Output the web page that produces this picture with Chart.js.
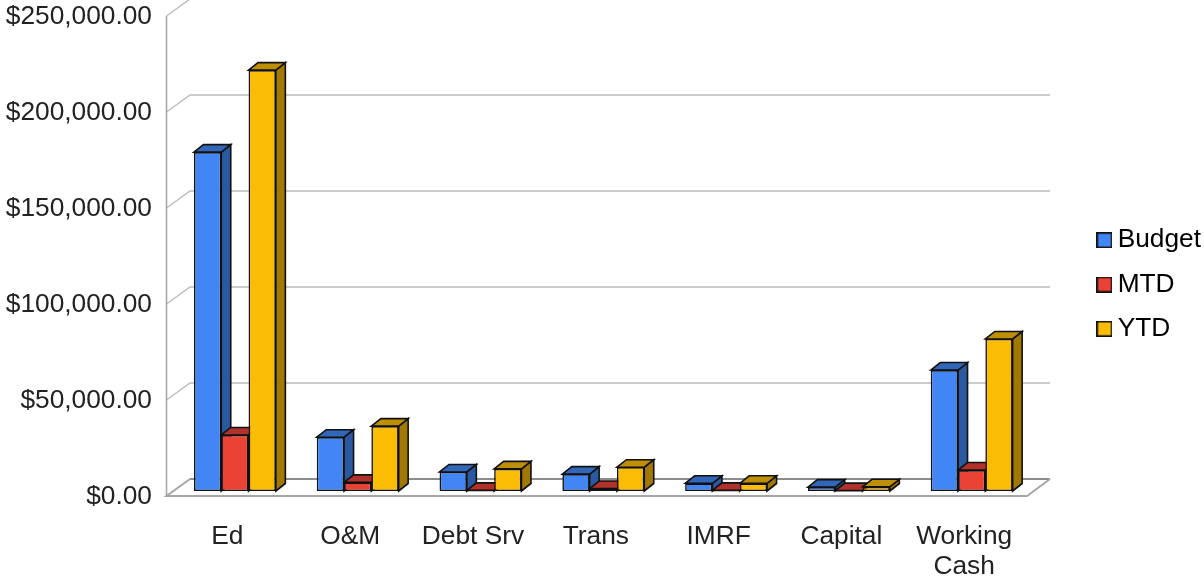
<!DOCTYPE html>
<html>
<head>
<meta charset="utf-8">
<style>html,body{margin:0;padding:0;background:#fff}canvas{display:block}</style>
<script src="https://cdn.jsdelivr.net/npm/chart.js@4"></script>
</head>
<body>
<canvas id="c" width="1204" height="582"></canvas>
<script>
const categories = ['Ed', 'O&M', 'Debt Srv', 'Trans', 'IMRF', 'Capital', ['Working', 'Cash']];
const budget = [176500, 28000, 9900, 8800, 4000, 2000, 63000];
const mtd = [29200, 4500, 300, 1300, 300, 200, 10900];
const ytd = [219200, 33800, 11500, 12400, 4000, 2200, 79200];
const seriesNames = ['Budget', 'MTD', 'YTD'];
const frontColors = ['#4285f4', '#ea4335', '#fbbc04'];
const topColors = ['#3166b9', '#b1322a', '#bf8f03'];
const sideColors = ['#2b599f', '#9d2d25', '#a07802'];
const yMax = 250000;
const yStep = 50000;

const depthX = 9.5, depthY = -7.5;
const edge = '#111111';

function legendSwatch(color) {
  const cv = document.createElement('canvas');
  cv.width = 16; cv.height = 16;
  const g = cv.getContext('2d');
  g.fillStyle = color; g.fillRect(0, 0, 16, 16);
  g.strokeStyle = edge; g.lineWidth = 1.6; g.strokeRect(0.8, 0.8, 14.4, 14.4);
  return cv;
}

const room3d = {
  id: 'room3d',
  afterLayout(chart) {
    const l = chart.legend;
    l.left += 53.4; l.right += 53.4;
    l.top -= 12; l.bottom -= 12;
  },
  beforeDatasetsDraw(chart) {
    const ctx = chart.ctx, y = chart.scales.y;
    const fx = 166.5, bx = 190, frontOff = 5, backOff = -12, endF = 1027, endB = 1050;
    ctx.save();
    ctx.lineWidth = 1.4; ctx.strokeStyle = '#bcbcbc';
    y.ticks.forEach(t => {
      const p = y.getPixelForValue(t.value);
      if (t.value === 0) return;
      ctx.beginPath();
      ctx.moveTo(fx, p + frontOff); ctx.lineTo(bx, p + backOff); ctx.lineTo(endB, p + backOff);
      ctx.stroke();
    });
    const top = y.getPixelForValue(yMax), zero = y.getPixelForValue(0);
    ctx.strokeStyle = '#a8a8a8'; ctx.lineWidth = 1.6;
    ctx.beginPath(); ctx.moveTo(fx, top + frontOff); ctx.lineTo(fx, zero + frontOff); ctx.stroke();
    ctx.strokeStyle = '#8c8c8c'; ctx.lineWidth = 2;
    ctx.beginPath(); ctx.moveTo(bx, zero + backOff); ctx.lineTo(endB, zero + backOff); ctx.stroke();
    ctx.strokeStyle = '#a6a6a6'; ctx.lineWidth = 2;
    ctx.beginPath();
    ctx.moveTo(bx, zero + backOff); ctx.lineTo(fx, zero + frontOff); ctx.lineTo(endF, zero + frontOff); ctx.lineTo(endB, zero + backOff);
    ctx.stroke();

    // side and top faces of every bar, left to right; the fronts are drawn over them by the library
    ctx.lineWidth = 1.6; ctx.strokeStyle = edge; ctx.lineJoin = 'miter';
    const metas = chart.data.datasets.map((d, i) => chart.getDatasetMeta(i));
    categories.forEach((c, ci) => {
      metas.forEach((meta, i) => {
        const { x, y: vy, base, width } = meta.data[ci].getProps(['x', 'y', 'base', 'width'], true);
        const l = x - width / 2, r = x + width / 2;
        ctx.fillStyle = sideColors[i];
        ctx.beginPath();
        ctx.moveTo(r, vy); ctx.lineTo(r + depthX, vy + depthY); ctx.lineTo(r + depthX, base + depthY); ctx.lineTo(r, base);
        ctx.closePath(); ctx.fill(); ctx.stroke();
        ctx.fillStyle = topColors[i];
        ctx.beginPath();
        ctx.moveTo(l, vy); ctx.lineTo(l + depthX, vy + depthY); ctx.lineTo(r + depthX, vy + depthY); ctx.lineTo(r, vy);
        ctx.closePath(); ctx.fill(); ctx.stroke();
      });
    });
    ctx.restore();
  }
};

const font = { family: '"Liberation Sans", Arial, sans-serif', size: 26.3, lineHeight: 1.15 };
const values = [budget, mtd, ytd];

new Chart(document.getElementById('c'), {
  type: 'bar',
  data: {
    labels: categories,
    datasets: seriesNames.map((name, i) => ({
      label: name,
      data: values[i],
      backgroundColor: frontColors[i],
      borderColor: edge,
      borderWidth: 1.6,
      borderSkipped: false,
      categoryPercentage: 0.667,
      barPercentage: 1
    }))
  },
  plugins: [room3d],
  options: {
    responsive: false,
    animation: false,
    devicePixelRatio: 1,
    layout: { padding: { top: 11, bottom: 0, right: 46.4, left: 0 } },
    plugins: {
      tooltip: { enabled: false },
      legend: {
        position: 'right',
        labels: {
          color: '#222222',
          font: font,
          usePointStyle: true,
          boxWidth: 0.01,
          boxHeight: 16,
          padding: 18,
          generateLabels(chart) {
            return chart.data.datasets.map((d, i) => ({
              text: d.label, pointStyle: legendSwatch(frontColors[i]),
              fillStyle: frontColors[i], strokeStyle: edge, lineWidth: 0,
              hidden: false, datasetIndex: i
            }));
          }
        }
      }
    },
    scales: {
      x: {
        grid: { display: false, drawTicks: false },
        border: { display: false },
        afterFit(s) { s.height = 91; s.paddingLeft = 0; s.paddingRight = 0; },
        ticks: { font: font, color: '#222222', padding: 30.5, labelOffset: -7.5, autoSkip: false, maxRotation: 0, minRotation: 0 }
      },
      y: {
        min: 0, max: yMax,
        grid: { display: false, drawTicks: false },
        border: { display: false },
        afterFit(s) { s.width = 173.5; s.paddingTop = 0; s.paddingBottom = 0; },
        ticks: {
          stepSize: yStep, font: font, color: '#222222', padding: 21.5, labelOffset: 6,
          callback: v => '$' + Number(v).toLocaleString('en-US', { minimumFractionDigits: 2, maximumFractionDigits: 2 })
        }
      }
    }
  }
});
</script>
</body>
</html>
